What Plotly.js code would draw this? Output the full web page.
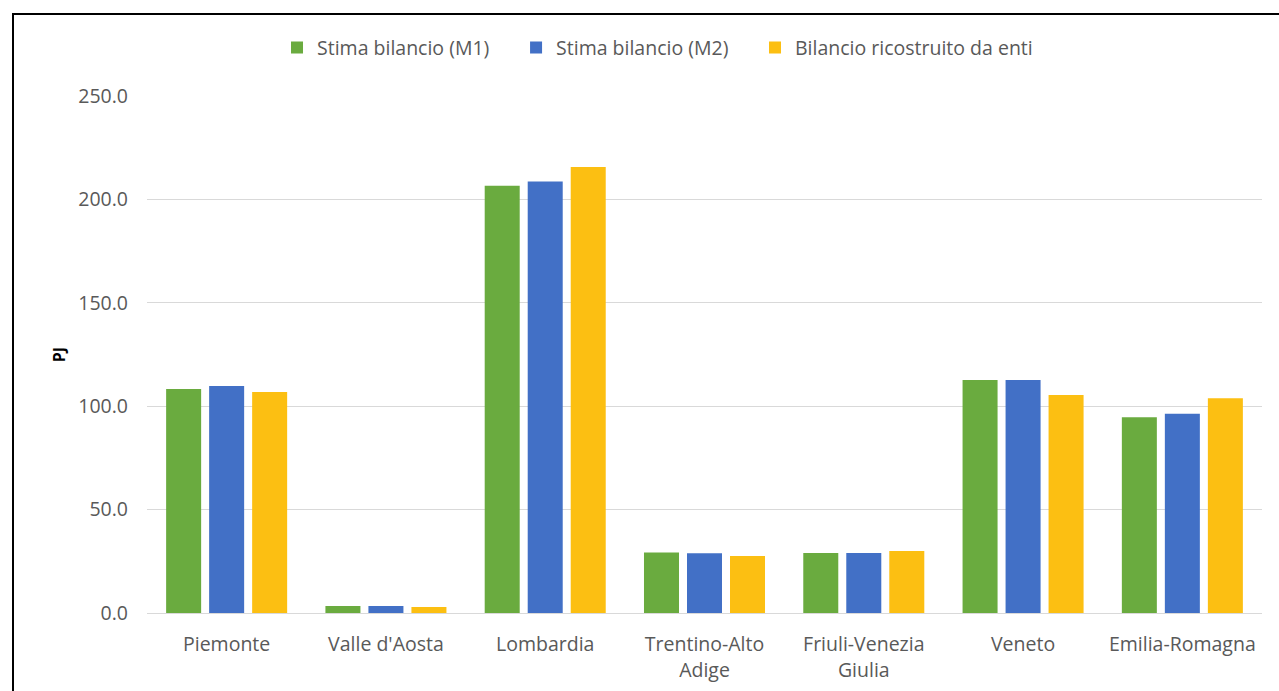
<!DOCTYPE html>
<html><head><meta charset="utf-8">
<script src="https://cdn.plot.ly/plotly-3.0.1.min.js"></script>
<style>
html,body{margin:0;padding:0;background:#fff;}
#frame{position:absolute;left:12px;top:13px;width:1300px;height:700px;border:2px solid #000;box-sizing:border-box;pointer-events:none;z-index:10;}
#chart{width:1279px;height:691px;}
</style></head>
<body>
<div id="chart"></div>
<div id="frame"></div>
<script>
const categories = ["Piemonte", "Valle d'Aosta", "Lombardia", "Trentino-Alto<br>Adige", "Friuli-Venezia<br>Giulia", "Veneto", "Emilia-Romagna"];
const seriesNames = ["Stima bilancio (M1)", "Stima bilancio (M2)", "Bilancio ricostruito da enti"];
const m1 = [108.3, 3.4, 206.6, 29.3, 29.0, 112.7, 94.6];
const m2 = [109.8, 3.4, 208.7, 28.9, 29.0, 112.7, 96.4];
const enti = [106.9, 2.9, 215.7, 27.6, 30.0, 105.4, 103.8];
const colors = ["#6aab3f", "#4270c6", "#fcbf12"];
const yTicks = [0, 50, 100, 150, 200, 250];

const font = "'Open Sans', Lato, sans-serif";
const fs = 19.5;
const legendIds = ['legend', 'legend2', 'legend3'];
const legendX = [0.1166, 0.331, 0.5453];
const data = [m1, m2, enti].map((v, i) => ({
  type: 'bar', x: categories, y: v, name: seriesNames[i],
  marker: {color: colors[i]}, hoverinfo: 'y', legend: legendIds[i]
}));
const layout = {
  width: 1279, height: 691,
  margin: {l: 147, r: 17, t: 96, b: 78},
  paper_bgcolor: '#fff', plot_bgcolor: '#fff',
  barmode: 'group', bargap: 0.19, bargroupgap: 0.186,
  font: {family: font, size: fs, color: '#595959'},
  showlegend: true,
  xaxis: {type: 'category', showgrid: false, showline: true, linecolor: '#d9d9d9', linewidth: 1,
          ticks: '', tickfont: {family: font, size: fs, color: '#595959'}, ticklabelstandoff: 14},
  yaxis: {range: [0, 250], tickvals: yTicks, tickformat: '.1f', showgrid: true, gridcolor: '#d9d9d9',
          zeroline: false, showline: false, ticks: '', ticklabelstandoff: 18,
          tickfont: {family: font, size: fs, color: '#595959'},
          title: {text: '<b>PJ</b>', font: {family: font, size: 16, color: '#000'}, standoff: 8}}
};
legendIds.forEach((id, i) => {
  layout[id] = {orientation: 'h', x: legendX[i], xanchor: 'left', y: 1.093, yanchor: 'middle',
                font: {family: font, size: fs, color: '#595959'}, itemwidth: 10, bgcolor: 'rgba(0,0,0,0)'};
});
Plotly.newPlot('chart', data, layout, {displayModeBar: false, staticPlot: true});
</script>
</body></html>
